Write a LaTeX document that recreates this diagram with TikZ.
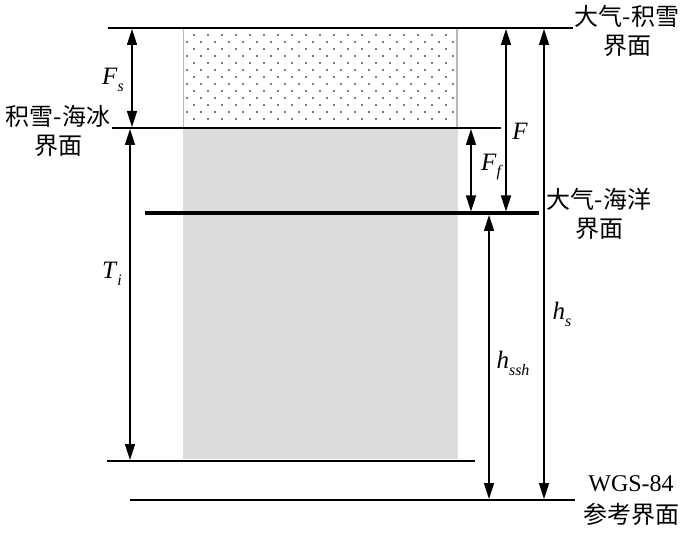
\documentclass[tikz,border=0pt]{standalone}
\usepackage{fontspec}
\setmainfont{Liberation Serif}
\newfontfamily\cjk{Noto Sans CJK SC}
\usetikzlibrary{arrows.meta}
\newcommand{\myvar}[2]{\textit{#1}\raisebox{-0.6ex}{\fontsize{16}{16}\selectfont\textit{#2}}}
\tikzset{
  level/.style={line width=2.2pt},
  thicklevel/.style={line width=3.8pt},
  dim/.style={line width=1.6pt, {Triangle[length=16pt,width=10pt]}-{Triangle[length=16pt,width=10pt]}},
  cnlab/.style={align=center, font=\cjk\fontsize{24}{29}\selectfont, inner sep=0pt},
  varlab/.style={font=\fontsize{25}{25}\selectfont, inner sep=0pt},
}
\begin{document}
\begin{tikzpicture}[x=1pt,y=-1pt]
\useasboundingbox (0,0) rectangle (700,534);
% ice block
\fill[fill={rgb,255:red,220;green,220;blue,220}] (183,128) rectangle (458,459);
% snow block
\draw[line width=1.4pt, draw={rgb,255:red,185;green,185;blue,185}] (183.5,28) -- (183.5,128) (457,28) -- (457,128);
\begin{scope}
\clip (184,29) rectangle (456,127);
\foreach \r in {0,...,12}{
  \pgfmathsetmacro{\yy}{35+7*\r}
  \pgfmathsetmacro{\xo}{mod(\r,2)==0 ? 194 : 187}
  \foreach \c in {0,...,19}{
    \fill[black!70] (\xo+14*\c,\yy) circle (1.1);
  }
}
\end{scope}
% level coordinates
\coordinate (topL) at (108,28);   \coordinate (topR) at (573,28);
\coordinate (siL) at (112,128);   \coordinate (siR) at (501,128);
\coordinate (ocL) at (145,213);   \coordinate (ocR) at (539,213);
\coordinate (ibL) at (107,461);   \coordinate (ibR) at (475,461);
\coordinate (wgL) at (130,500);   \coordinate (wgR) at (575,500);
\draw[level] (topL) -- (topR);
\draw[level] (siL) -- (siR);
\draw[thicklevel] (ocL) -- (ocR);
\draw[level] (ibL) -- (ibR);
\draw[level] (wgL) -- (wgR);
% dimension arrow endpoints
\coordinate (fsA) at (132,29);  \coordinate (fsB) at (132,127);
\coordinate (tiA) at (130,129); \coordinate (tiB) at (130,460);
\coordinate (ffA) at (471,129); \coordinate (ffB) at (471,211.5);
\coordinate (fA) at (506,29);   \coordinate (fB) at (506,211.5);
\coordinate (hsA) at (544,29);  \coordinate (hsB) at (544,499);
\coordinate (hhA) at (489,215); \coordinate (hhB) at (489,499);
\draw[dim] (fsA) -- (fsB);
\draw[dim] (tiA) -- (tiB);
\draw[dim] (ffA) -- (ffB);
\draw[dim] (fA) -- (fB);
\draw[dim] (hsA) -- (hsB);
\draw[dim] (hhA) -- (hhB);
% variable labels
\node[varlab] (lfs) at (113,80) {\myvar{F}{s}};
\node[varlab] (lti) at (112,274) {\myvar{T}{i}};
\node[varlab] (lff) at (492,167) {\myvar{F}{f}};
\node[varlab] (lf) at (520,131) {\textit{F}};
\node[varlab] (lhs) at (562,314) {\myvar{h}{s}};
\node[varlab] (lhh) at (513,363) {\myvar{h}{ssh}};
% text labels
\node[cnlab] (t1) at (627,31) {大气-积雪\\界面};
\node[cnlab] (t2) at (599,214) {大气-海洋\\界面};
\node[cnlab] (t3) at (58,131) {积雪-海冰\\界面};
\node[inner sep=0pt, font=\fontsize{24}{24}\selectfont] (t4) at (631,484) {WGS-84};
\node[cnlab] (t5) at (631,514) {参考界面};
\end{tikzpicture}
\end{document}
